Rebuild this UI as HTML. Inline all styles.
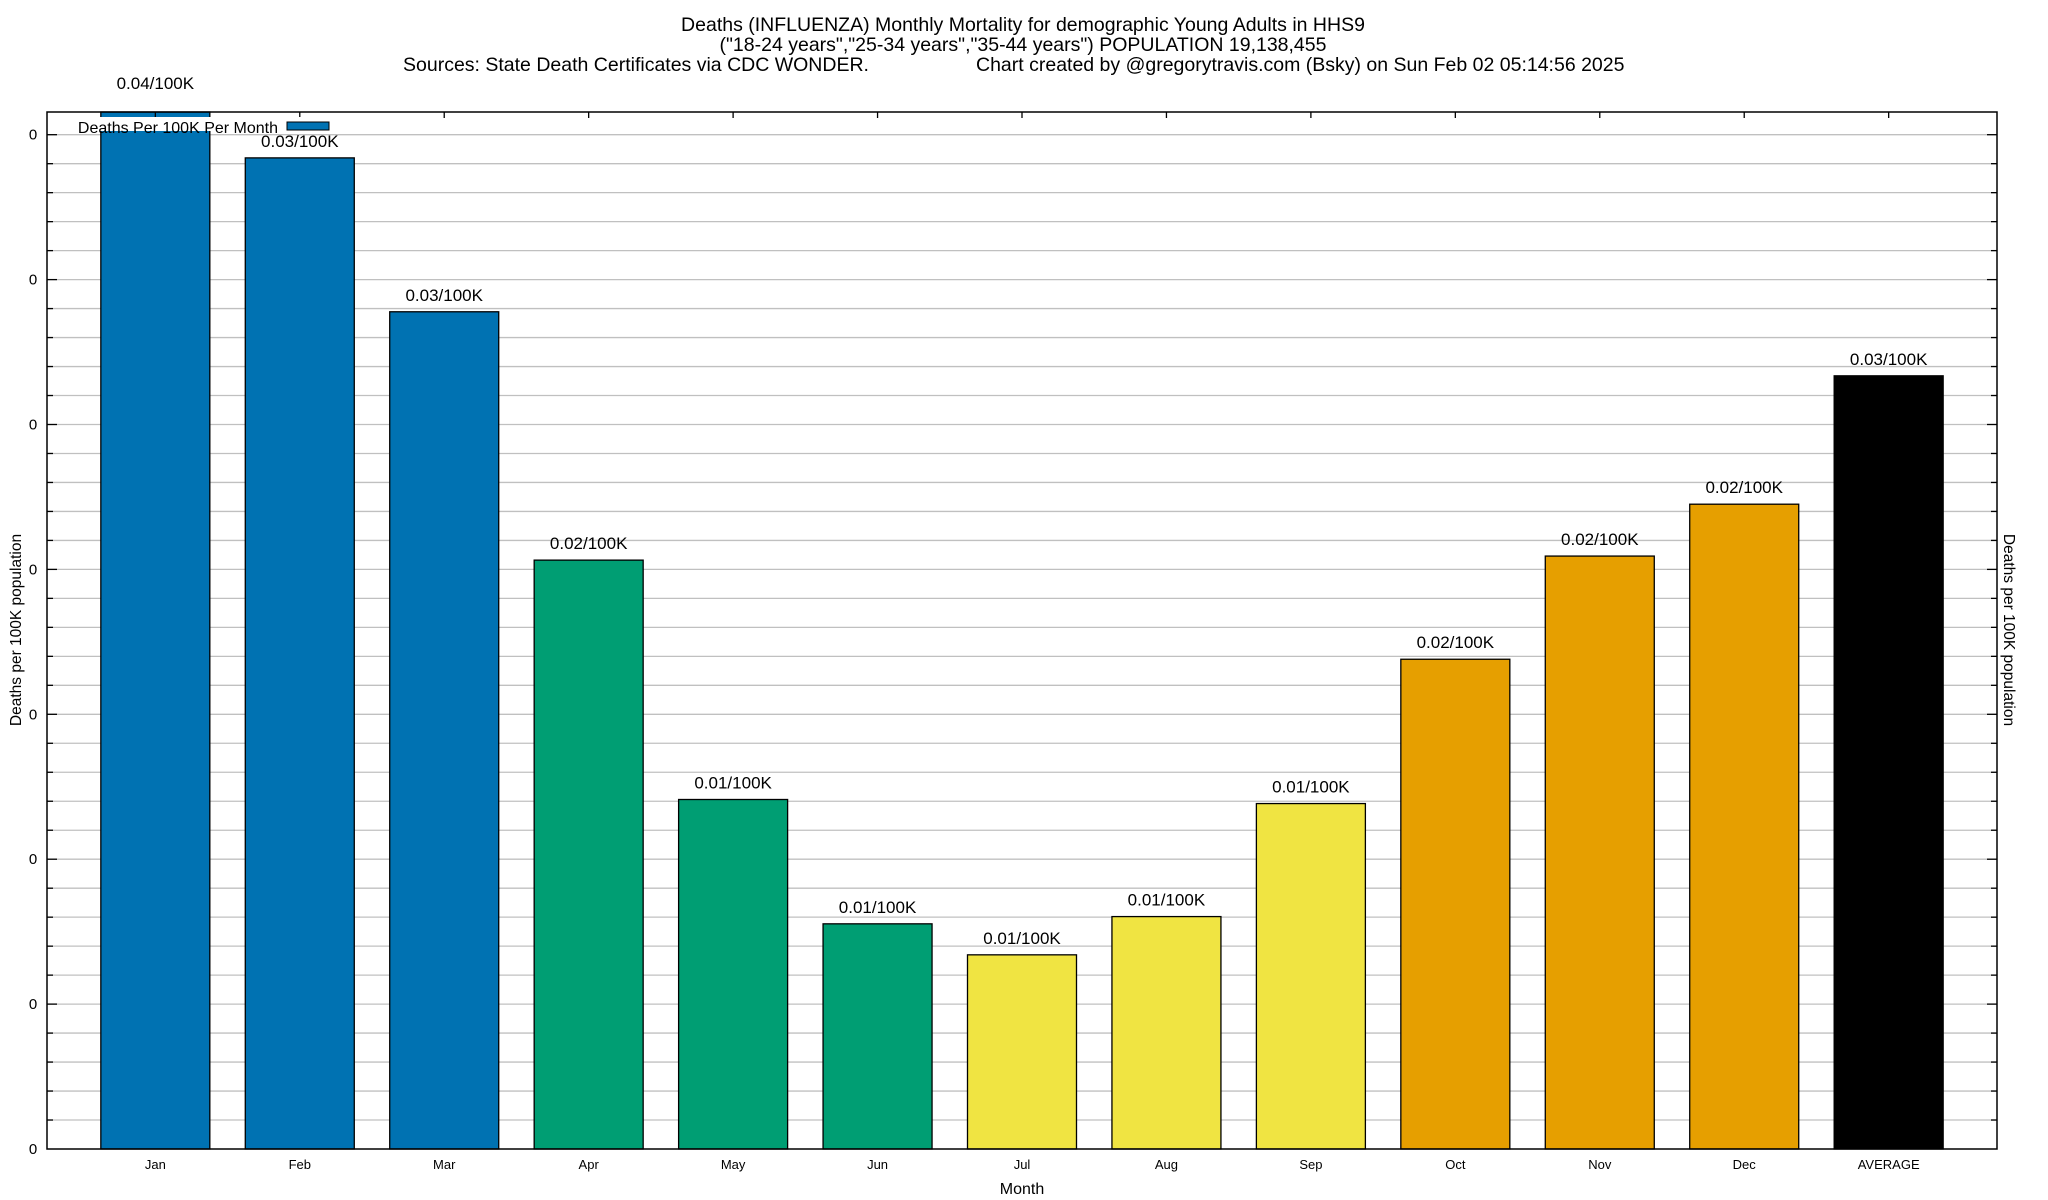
<!DOCTYPE html>
<html><head><meta charset="utf-8"><style>
html,body{margin:0;padding:0;background:#fff;}
svg{display:block;font-family:"Liberation Sans",sans-serif;}
</style></head><body>
<svg id="chart" width="2048" height="1200" viewBox="0 0 2048 1200" xmlns="http://www.w3.org/2000/svg">
<rect width="2048" height="1200" fill="#fff"/>
<g font-size="19.5" fill="#000">
<text x="1023" y="31" text-anchor="middle">Deaths (INFLUENZA) Monthly Mortality for demographic Young Adults in HHS9</text>
<text x="1023" y="51" text-anchor="middle">("18-24 years","25-34 years","35-44 years") POPULATION 19,138,455</text>
<text x="403" y="71">Sources: State Death Certificates via CDC WONDER.</text>
<text x="976" y="71">Chart created by @gregorytravis.com (Bsky) on Sun Feb 02 05:14:56 2025</text>
</g>
<g id="grid"></g>
<g id="bars"></g>
<g id="axes"></g>
<text x="1022" y="1194" text-anchor="middle" font-size="16">Month</text>
<text transform="translate(21,630) rotate(-90)" text-anchor="middle" font-size="15.5">Deaths per 100K population</text>
<text transform="translate(2004,630) rotate(90)" text-anchor="middle" font-size="15.5">Deaths per 100K population</text>
<g>
<rect x="78" y="117" width="257" height="14" fill="#fff"/>
<text x="278" y="133" text-anchor="end" font-size="16">Deaths Per 100K Per Month</text>
<rect x="287" y="122" width="42" height="8" fill="#0072b2" stroke="#000" stroke-width="1"/>
</g>
</svg>
<script>
const categories = ["Jan","Feb","Mar","Apr","May","Jun","Jul","Aug","Sep","Oct","Nov","Dec","AVERAGE"];
const values = [0.0362,0.0342,0.02889,0.02032,0.01206,0.00777,0.0067,0.00802,0.01192,0.0169,0.02046,0.02225,0.02668];
const colors = ["#0072b2","#0072b2","#0072b2","#009e73","#009e73","#009e73","#f0e442","#f0e442","#f0e442","#e69f00","#e69f00","#e69f00","#000000"];
const yTickValues = [0,0.005,0.01,0.015,0.02,0.025,0.03,0.035];
const yTickLabels = ["0","0","0","0","0","0","0","0"];

const NS="http://www.w3.org/2000/svg";
const L=47,R=1997,T=112,B=1149;
const yMax=(B-T)/144.9*0.005;
const xMin=-0.75,xMax=12.75;
function xs(i){return L+(i-xMin)/(xMax-xMin)*(R-L);}
function ys(v){return B-v/yMax*(B-T);}
function mk(tag,attrs,parent){const e=document.createElementNS(NS,tag);for(const k in attrs)e.setAttribute(k,attrs[k]);parent.appendChild(e);return e;}
const grid=document.getElementById('grid'),bars=document.getElementById('bars'),axes=document.getElementById('axes');
for(let k=1;k<=35;k++){const v=k*0.001;const y=ys(v);if(y<T)break;
 const g=mk('line',{x1:L,x2:R,y1:y,y2:y,stroke:'#c0c0c0','stroke-width':1.3},grid);
 
 
 const major=k%5===0;
 mk('line',{x1:L,x2:L+(major?10:6),y1:y,y2:y,stroke:'#000','stroke-width':1.3},axes);
 mk('line',{x1:R,x2:R-(major?10:6),y1:y,y2:y,stroke:'#000','stroke-width':1.3},axes);
}
yTickValues.forEach((v,i)=>{const t=mk('text',{x:33,y:ys(v)+5,'text-anchor':'middle','font-size':15},axes);t.textContent=yTickLabels[i];
 
 });
const bw=109;
categories.forEach((c,i)=>{
 const cx=xs(i);const v=values[i];const top=Math.max(T,ys(v));
 const r=mk('rect',{x:cx-bw/2,y:top,width:bw,height:B-top,fill:colors[i],stroke:'#000','stroke-width':1.3},bars);
 
 
 const lt=mk('text',{x:cx,y:ys(v)-11,'text-anchor':'middle','font-size':17},bars);
 lt.textContent=v.toFixed(2)+'/100K';
 
 
 const xt=mk('text',{x:cx,y:1169,'text-anchor':'middle','font-size':13},axes);
 xt.textContent=c;
 
 
 mk('line',{x1:cx,x2:cx,y1:T,y2:T+6,stroke:'#000','stroke-width':1.3},axes);
});
const fr=mk('rect',{x:L,y:T,width:R-L,height:B-T,fill:'none',stroke:'#000','stroke-width':1.5},axes);


</script>
</body></html>
